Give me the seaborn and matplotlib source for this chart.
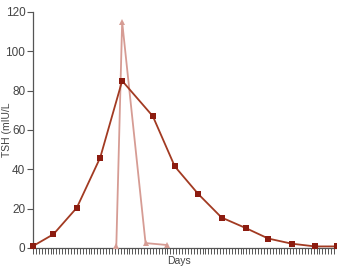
import matplotlib
matplotlib.use("Agg")
import matplotlib.pyplot as plt
import seaborn as sns
import pandas as pd

# data
dark_days = [0, 7, 15, 23, 30.5, 41, 48.5, 56.5, 64.5, 73, 80.5, 88.5, 96.5, 104]
dark_tsh = [1, 7, 20.5, 46, 85, 67, 41.5, 27.5, 15.5, 10, 4.8, 2.2, 0.8, 0.8]
light_days = [28.5, 30.5, 38.5, 46]
light_tsh = [1, 115, 2.5, 1.5]
y_ticks = [0, 20, 40, 60, 80, 100, 120]

sns.set_theme(style="ticks")
plt.rcParams["font.family"] = ["Liberation Sans", "DejaVu Sans"]

dark_color = "#a23a22"
light_color = "#d69c94"

fig = plt.figure(figsize=(3.37, 2.68), dpi=100)
ax = fig.add_axes([33/337, 20/268, 304/337, 236/268])

df_dark = pd.DataFrame({"day": dark_days, "tsh": dark_tsh})
df_light = pd.DataFrame({"day": light_days, "tsh": light_tsh})

sns.lineplot(data=df_light, x="day", y="tsh", ax=ax, color=light_color,
             marker="^", markersize=5, markeredgewidth=0, linewidth=1.3,
             clip_on=False, zorder=3)
sns.lineplot(data=df_dark, x="day", y="tsh", ax=ax, color=dark_color,
             marker="s", markersize=4.5, markeredgewidth=0, linewidth=1.3,
             clip_on=False, zorder=4)
ax.lines[-1].set_markerfacecolor("#8c1c10")

ax.set_xlim(0, 104)
ax.set_ylim(0, 120)
ax.set_yticks(y_ticks)
ax.set_xticks([])
ax.set_xticks(list(range(0, 105)), minor=True)
ax.tick_params(axis="x", which="minor", length=4, width=0.7, color="#555555", direction="out")
ax.tick_params(axis="y", length=4, width=0.8, color="#555555", labelsize=8.5, labelcolor="#444444", pad=1.5)
ax.set_xlabel("Days", fontsize=7.5, color="#444444")
ax.set_ylabel("TSH (mIU/L", fontsize=7.5, color="#444444")
ax.xaxis.set_label_coords(0.48, -0.032)
ax.yaxis.set_label_coords(-0.068, 0.5)
for s in ["top", "right"]:
    ax.spines[s].set_visible(False)
for s in ["left", "bottom"]:
    ax.spines[s].set_color("#555555")
    ax.spines[s].set_linewidth(0.9)

fig.savefig("out.png", dpi=100)
